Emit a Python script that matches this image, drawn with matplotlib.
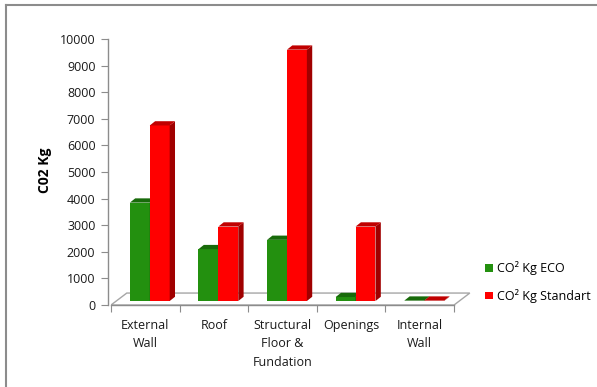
import matplotlib
matplotlib.use("Agg")
import matplotlib.pyplot as plt
from matplotlib.lines import Line2D

plt.rcParams['font.family'] = ['Open Sans', 'DejaVu Sans']

categories = ["External\nWall", "Roof", "Structural\nFloor &\nFundation", "Openings", "Internal\nWall"]
co2_eco = [3700, 1950, 2300, 150, 15]
co2_standart = [6600, 2800, 9450, 2800, 15]
series_labels = ["CO² Kg ECO", "CO² Kg Standart"]

# 3d look constants (data units)
bar_w = 0.29
depth_x = 0.078
depth_y = 160
lift = 150            # bars stand a little behind the floor front edge
floor_dx = 0.23
floor_dy = 450

green = ("#23900f", "#186a0a", "#156008")   # front, top, side
red = ("#ff0000", "#c00000", "#a00000")

fig = plt.figure(figsize=(5.97, 3.87), dpi=100)
ax = fig.add_axes([111/597, (387-313)/387, 363.6/597, 279.3/387])
ax.set_xlim(-0.5, 4.8)
ax.set_ylim(-300, 10200)

n = len(categories)
# floor
ax.fill([-0.5, n - 0.5, n - 0.5 + floor_dx, -0.5 + floor_dx],
        [0, 0, floor_dy, floor_dy], facecolor="white", edgecolor="#a6a6a6", lw=1.0, zorder=1)


def bar3d(left, value, cols, label=None):
    bc = ax.bar(left, value, width=bar_w, bottom=lift, align="edge",
                color=cols[0], lw=0, zorder=2, label=label)
    r = left + bar_w
    top = lift + value
    # side face
    ax.fill([r, r + depth_x, r + depth_x, r],
            [lift, lift + depth_y, top + depth_y, top], color=cols[2], lw=0, zorder=2)
    # top face
    ax.fill([left, left + depth_x, r + depth_x, r],
            [top, top + depth_y, top + depth_y, top], color=cols[1], lw=0, zorder=2)
    return bc


handles = []
for i in range(n):
    g = bar3d(i - 0.225, co2_eco[i], green, series_labels[0] if i == 0 else None)
    rd = bar3d(i + 0.065, co2_standart[i], red, series_labels[1] if i == 0 else None)
    if i == 0:
        handles = [g, rd]

for s in ["top", "right"]:
    ax.spines[s].set_visible(False)
ax.spines["left"].set_bounds(0, 10000)
ax.spines["left"].set_position(("data", -0.545))
ax.spines["bottom"].set_position(("data", 0))
ax.spines["bottom"].set_bounds(-0.5, n - 0.5)
for s in ["left", "bottom"]:
    ax.spines[s].set_color("#8c8c8c")
    ax.spines[s].set_linewidth(1.0)

ax.set_yticks(range(0, 10001, 1000))
ax.tick_params(axis="y", direction="out", length=5, color="#8c8c8c", labelsize=9, pad=4)
ax.set_xticks([i - 0.5 for i in range(n + 1)])
ax.set_xticklabels([])
ax.tick_params(axis="x", which="major", direction="out", length=5, color="#8c8c8c")
ax.set_xticks(range(n), minor=True)
ax.set_xticklabels(categories, minor=True, fontsize=9, linespacing=1.55, va="top")
ax.tick_params(axis="x", which="minor", length=0, pad=10)
for t in ax.get_yticklabels() + ax.get_xticklabels(minor=True):
    t.set_color("#1a1a1a")

fig.text(45/597, 1 - 170/387, "C02 Kg", rotation=90, fontsize=10, fontweight="bold",
         ha="center", va="center")

fig.legend(handles, series_labels, loc="center left", bbox_to_anchor=(474/597, 1 - 282/387),
           frameon=False, fontsize=9, handlelength=0.6, handleheight=0.6,
           handletextpad=0.35, labelspacing=1.1)

# chart border
fig.add_artist(Line2D([6/597, 6/597], [0, 1 - 5/387], color="#8c8c8c", lw=1.5))
fig.add_artist(Line2D([6/597, 1], [1 - 5/387, 1 - 5/387], color="#8c8c8c", lw=1.5))

fig.savefig("out.png", dpi=100)
